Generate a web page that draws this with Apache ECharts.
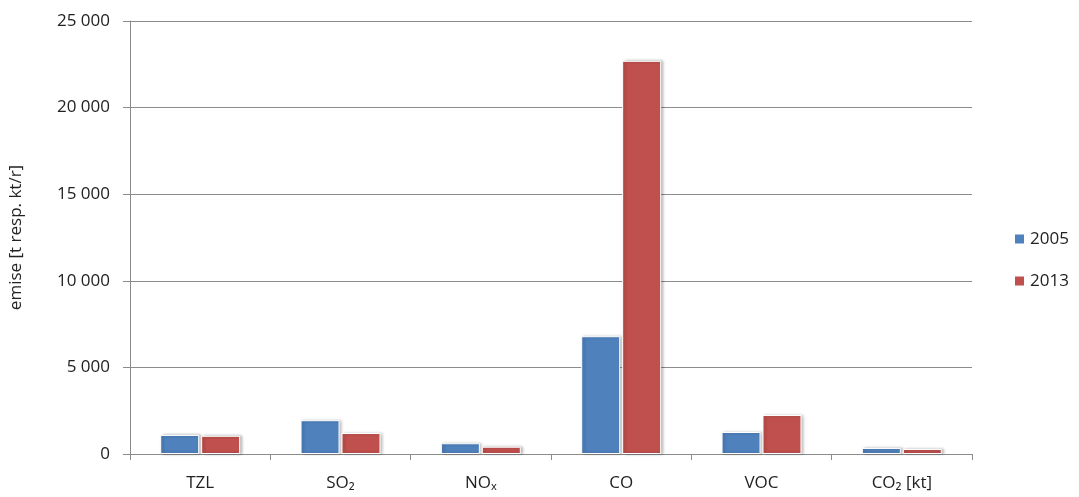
<!DOCTYPE html>
<html>
<head>
<meta charset="utf-8">
<script src="https://cdn.jsdelivr.net/npm/echarts@6/dist/echarts.min.js"></script>
<style>
  html, body { margin: 0; padding: 0; background: #fff; }
  #chart { width: 1079px; height: 497px; }
</style>
</head>
<body>
<div id="chart"></div>
<script>
// Pollutant categories and emissions per year
const categories = ['TZL', 'SO₂', 'NOₓ', 'CO', 'VOC', 'CO₂ [kt]'];
const emise2005 = [1100, 1950, 620, 6800, 1270, 350];
const emise2013 = [1050, 1210, 420, 22700, 2250, 290];
const yTicks = { min: 0, max: 25000, interval: 5000 };

const FONT = '"Open Sans", "Noto Sans", sans-serif';
const fmt = v => String(v).replace(/\B(?=(\d{3})+(?!\d))/g, ' ');

const barStyle = color => ({
  color: color,
  borderColor: '#ffffff',
  borderWidth: 1,
  shadowColor: 'rgba(0,0,0,0.28)',
  shadowBlur: 3,
  shadowOffsetX: 2,
  shadowOffsetY: 0
});

const chart = echarts.init(document.getElementById('chart'));
chart.setOption({
  animation: false,
  textStyle: { fontFamily: FONT },
  grid: {
    left: 130, right: 107, top: 21, bottom: 43,
    containLabel: false,
    outerBoundsMode: 'none'
  },
  legend: {
    orient: 'vertical',
    left: 1008,
    top: 223,
    itemWidth: 11,
    itemHeight: 11,
    itemGap: 20,
    icon: 'rect',
    textStyle: { fontFamily: FONT, fontSize: 17, color: '#222', lineHeight: 22 },
    data: ['2005', '2013']
  },
  xAxis: {
    type: 'category',
    data: categories,
    axisLine: { lineStyle: { color: '#8c8c8c', width: 1 } },
    axisTick: { show: true, length: 6, lineStyle: { color: '#8c8c8c' } },
    axisLabel: { fontFamily: FONT, fontSize: 17, color: '#222', margin: 21 }
  },
  yAxis: {
    type: 'value',
    min: yTicks.min,
    max: yTicks.max,
    interval: yTicks.interval,
    name: 'emise [t resp. kt/r]',
    nameLocation: 'middle',
    nameGap: 105,
    nameTextStyle: { fontFamily: FONT, fontSize: 17, color: '#222' },
    axisLine: { show: true, lineStyle: { color: '#8c8c8c', width: 1 } },
    axisTick: { show: true, length: 7, lineStyle: { color: '#8c8c8c' } },
    splitLine: { lineStyle: { color: '#8c8c8c', width: 1 } },
    axisLabel: { fontFamily: FONT, fontSize: 17, color: '#222', margin: 20, formatter: fmt }
  },
  series: [
    {
      name: '2005', type: 'bar', data: emise2005,
      barWidth: 39, barGap: '5%',
      itemStyle: barStyle('#4f81bd')
    },
    {
      name: '2013', type: 'bar', data: emise2013,
      barWidth: 39, barGap: '5%',
      itemStyle: barStyle('#c0504d')
    }
  ]
});
</script>
</body>
</html>
